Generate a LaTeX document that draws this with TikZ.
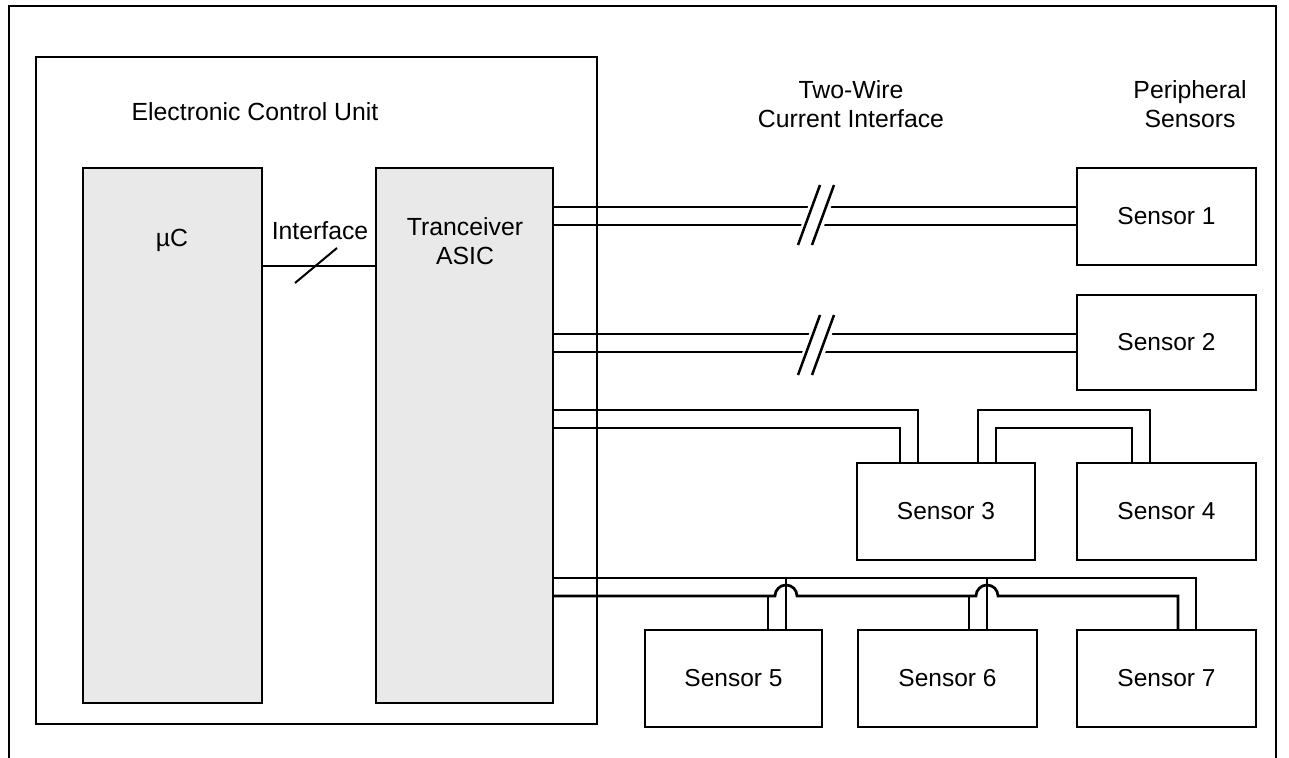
\documentclass[tikz,border=0pt]{standalone}
\usepackage{fontspec}
\setmainfont{Liberation Sans}
\definecolor{panelgray}{RGB}{232,233,232}
\begin{document}
\begin{tikzpicture}[x=1pt,y=-1pt,
  box/.style={draw, line width=2pt, anchor=north west, inner sep=0pt, outer sep=0pt,
              font=\fontsize{24.5}{29}\selectfont},
  graybox/.style={box, fill=panelgray},
  wire/.style={line width=2.7pt},
  thin wire/.style={line width=2pt},
  lbl/.style={font=\fontsize{24.8}{29}\selectfont, inner sep=0pt, align=center},
  brk/.style={line width=2.5pt}
]
\useasboundingbox (0,0) rectangle (1289,757);

% outer frame (open at the bottom)
\draw[line width=2.2pt] (9,775) -- (9,6) -- (1276,6) -- (1276,775);

% ECU
\node[box, minimum width=561pt, minimum height=667pt] (ecu) at (36,57) {};
\node[lbl, anchor=base] (ecul) at (255,121) {Electronic Control Unit};

\node[graybox, minimum width=179pt, minimum height=535pt] (uc) at (83,168) {};
\node[lbl] (ucl) at (172,240) {µC};
\node[graybox, minimum width=177pt, minimum height=535pt] (trx) at (376,168) {};
\node[lbl] (trxl) at (465,241) {Tranceiver\\ASIC};

% interface
\draw[thin wire] (uc.east |- 0,266) -- (trx.west |- 0,266);
\coordinate (ifa) at (295,283);
\coordinate (ifb) at (337,248);
\draw[thin wire] (ifa) -- (ifb);
\node[lbl] (ifl) at (320,231) {Interface};

% headings
\node[lbl] (twl) at (851,104.5) {Two-Wire\\Current Interface};
\node[lbl] (psl) at (1190,104) {Peripheral\\Sensors};

% sensors
\node[box, minimum width=179pt, minimum height=97pt] (s1) at (1077,168) {Sensor 1};
\node[box, minimum width=179pt, minimum height=95pt] (s2) at (1077,295) {Sensor 2};
\node[box, minimum width=178pt, minimum height=97pt] (s3) at (857,463) {Sensor 3};
\node[box, minimum width=179pt, minimum height=97pt] (s4) at (1077,463) {Sensor 4};
\node[box, minimum width=177pt, minimum height=97pt] (s5) at (645,630) {Sensor 5};
\node[box, minimum width=179pt, minimum height=97pt] (s6) at (858,630) {Sensor 6};
\node[box, minimum width=179pt, minimum height=97pt] (s7) at (1077,630) {Sensor 7};

% sensor 1 and 2 links with break marks
\draw[wire] (trx.east |- 0,207) -- (s1.west |- 0,207);
\draw[wire] (trx.east |- 0,225) -- (s1.west |- 0,225);
\draw[wire] (trx.east |- 0,334) -- (s2.west |- 0,334);
\draw[wire] (trx.east |- 0,352) -- (s2.west |- 0,352);
\fill[white] (794,245) -- (816,185) -- (839,185) -- (817,245) -- cycle;
\fill[white] (794,375) -- (816,315) -- (839,315) -- (817,375) -- cycle;
\draw[brk] (798,245) -- (820,185);
\draw[brk] (812,245) -- (834,185);
\draw[brk] (798,375) -- (820,315);
\draw[brk] (812,375) -- (834,315);

% sensor 3 and 4
\draw[wire] (trx.east |- 0,410) -- (918,410) -- (s3.north -| 918,0);
\draw[wire] (trx.east |- 0,428) -- (900,428) -- (s3.north -| 900,0);
\draw[wire] (s3.north -| 978,0) -- (978,410) -- (1150,410) -- (s4.north -| 1150,0);
\draw[wire] (s3.north -| 996,0) -- (996,428) -- (1132,428) -- (s4.north -| 1132,0);

% bus to sensors 5, 6, 7
\draw[wire] (trx.east |- 0,578) -- (1196,578) -- (s7.north -| 1196,0);
\draw[wire] (786,578) -- (s5.north -| 786,0);
\draw[wire] (987,578) -- (s6.north -| 987,0);
\draw[wire] (trx.east |- 0,596) -- (775,596) arc[start angle=180, end angle=0, radius=11pt]
      -- (976,596) arc[start angle=180, end angle=0, radius=11pt]
      -- (1178,596) -- (s7.north -| 1178,0);
\draw[wire] (768,596) -- (s5.north -| 768,0);
\draw[wire] (969,596) -- (s6.north -| 969,0);
\end{tikzpicture}
\end{document}
